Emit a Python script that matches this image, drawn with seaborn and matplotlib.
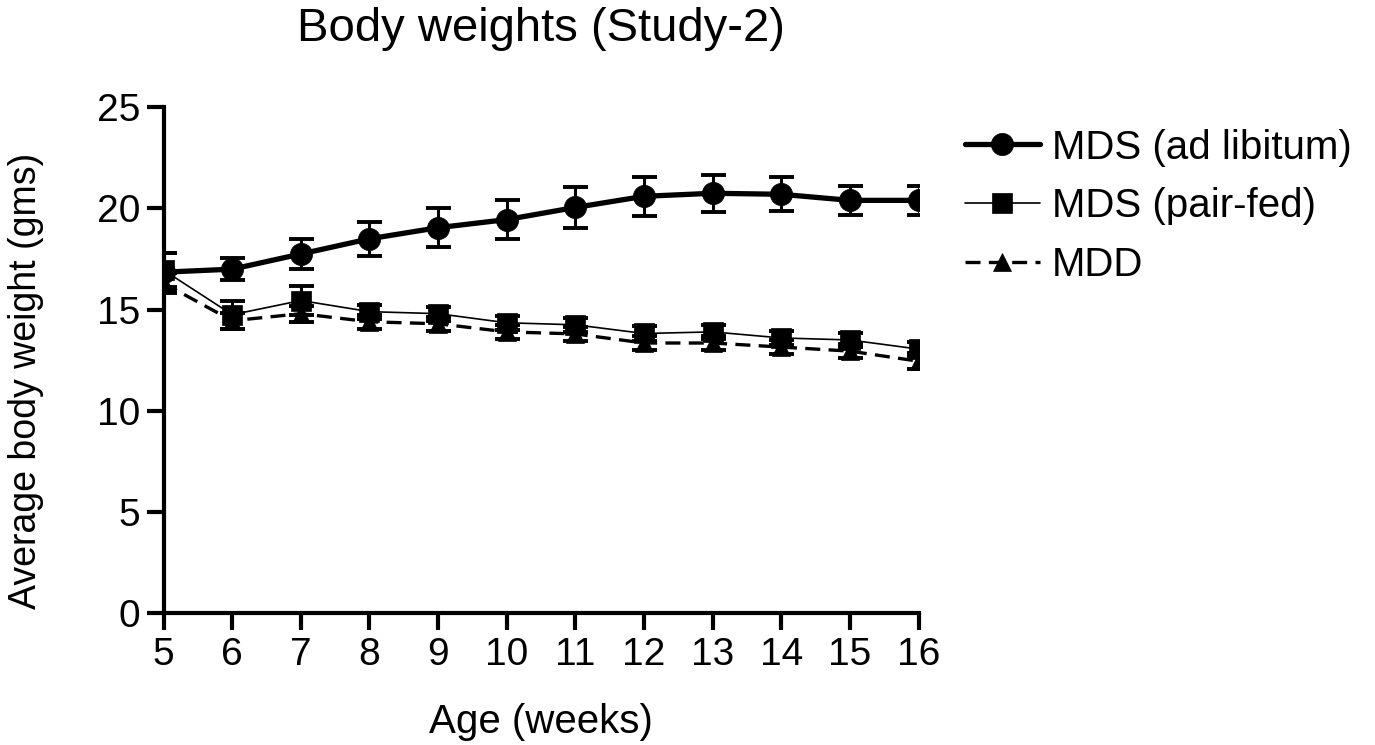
import numpy as np
import pandas as pd
import seaborn as sns
import matplotlib.pyplot as plt

# Values
weeks = [5, 6, 7, 8, 9, 10, 11, 12, 13, 14, 15, 16]

ad_lib = [16.85, 17.0, 17.75, 18.5, 19.05, 19.45, 20.05, 20.6, 20.75, 20.7, 20.4, 20.4]
ad_lib_err = [0.95, 0.55, 0.72, 0.85, 0.95, 0.95, 1.0, 0.95, 0.92, 0.85, 0.72, 0.7]

pair_fed = [16.95, 14.75, 15.45, 14.9, 14.8, 14.35, 14.25, 13.82, 13.9, 13.6, 13.5, 13.05]
pair_fed_err = [0.85, 0.7, 0.7, 0.35, 0.35, 0.35, 0.35, 0.35, 0.35, 0.35, 0.35, 0.35]

mdd = [16.3, 14.45, 14.8, 14.4, 14.3, 13.9, 13.8, 13.35, 13.35, 13.15, 12.95, 12.45]
mdd_err = [0.5, 0.4, 0.4, 0.35, 0.35, 0.35, 0.35, 0.35, 0.35, 0.35, 0.35, 0.4]

groups = ["MDS (ad libitum)", "MDS (pair-fed)", "MDD"]

df = pd.DataFrame({
    "week": weeks * 3,
    "weight": ad_lib + pair_fed + mdd,
    "err": ad_lib_err + pair_fed_err + mdd_err,
    "group": [groups[0]] * 12 + [groups[1]] * 12 + [groups[2]] * 12,
})

sns.set_theme(style="ticks")
plt.rcParams["font.family"] = ["Liberation Sans", "DejaVu Sans"]
plt.rcParams["text.color"] = "black"
plt.rcParams["axes.labelcolor"] = "black"
plt.rcParams["axes.edgecolor"] = "black"

fig = plt.figure(figsize=(13.75, 7.45), dpi=100)
ax = fig.add_axes([0.119, 0.177, 0.549, 0.679])

styles = {
    groups[0]: dict(marker="o", lw=3.8, ms=16, ls="-"),
    groups[1]: dict(marker="s", lw=1.2, ms=14, ls="-"),
    groups[2]: dict(marker="^", lw=2.4, ms=13, ls=(0, (4.5, 2.5))),
}

for g in groups[::-1]:
    sub = df[df["group"] == g]
    st = styles[g]
    ax.errorbar(sub["week"], sub["weight"], yerr=sub["err"], fmt="none",
                ecolor="black", elinewidth=2.2, capsize=9, capthick=2.8,
                zorder=2)
    sns.lineplot(data=sub, x="week", y="weight", ax=ax, color="black",
                 marker=st["marker"], markersize=st["ms"], linewidth=st["lw"],
                 linestyle=st["ls"], markeredgecolor="black",
                 markeredgewidth=0.5, label=g, zorder=3)

ax.set_xlim(5, 16)
ax.set_ylim(0, 25)
ax.set_xticks(weeks)
ax.set_yticks([0, 5, 10, 15, 20, 25])

for s in ["top", "right"]:
    ax.spines[s].set_visible(False)
for s in ["left", "bottom"]:
    ax.spines[s].set_linewidth(3)
    ax.spines[s].set_color("black")
ax.tick_params(axis="both", length=12, width=3, labelsize=28, pad=5,
               colors="black")

ax.set_xlabel("Age (weeks)", fontsize=29, labelpad=22)
ax.set_ylabel("Average body weight (gms)", fontsize=27)
ax.yaxis.set_label_coords(-0.158, 0.46)
ax.set_title("Body weights (Study-2)", fontsize=34, pad=48)

handles, labels = ax.get_legend_handles_labels()
order = [labels.index(g) for g in groups]
ax.legend([handles[i] for i in order], groups, loc="upper left",
          bbox_to_anchor=(1.061, 0.958), frameon=False, fontsize=29,
          borderpad=0, borderaxespad=0, handlelength=1.87,
          handletextpad=0.3, labelspacing=0.52)

fig.savefig("out.png", dpi=100)
